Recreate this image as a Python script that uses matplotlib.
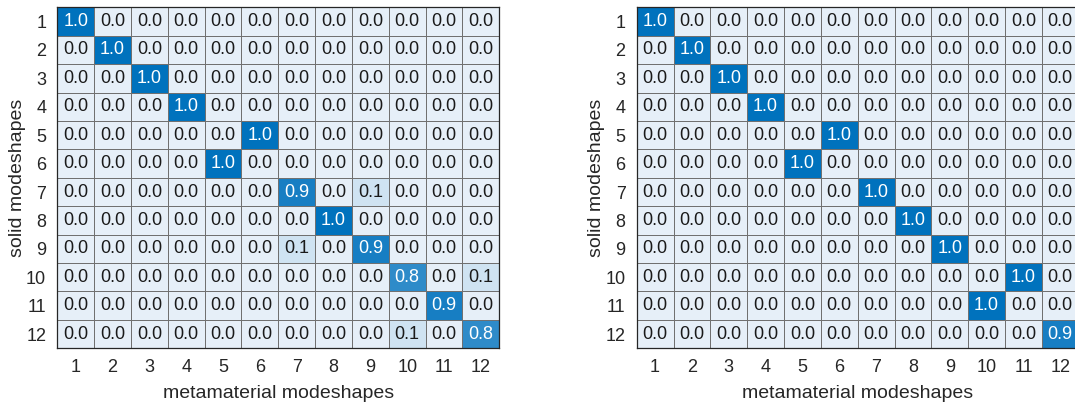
import numpy as np
import matplotlib
matplotlib.use('Agg')
import matplotlib.pyplot as plt
from matplotlib.colors import LinearSegmentedColormap

plt.rcParams['font.family'] = ['Liberation Sans', 'DejaVu Sans']

modes = [str(i) for i in range(1, 13)]

# MAC values, rows = solid modes, cols = metamaterial modes
mac_left = np.array([
    [1.0, 0, 0, 0, 0, 0, 0, 0, 0, 0, 0, 0],
    [0, 1.0, 0, 0, 0, 0, 0, 0, 0, 0, 0, 0],
    [0, 0, 1.0, 0, 0, 0, 0, 0, 0, 0, 0, 0],
    [0, 0, 0, 1.0, 0, 0, 0, 0, 0, 0, 0, 0],
    [0, 0, 0, 0, 0, 1.0, 0, 0, 0, 0, 0, 0],
    [0, 0, 0, 0, 1.0, 0, 0, 0, 0, 0, 0, 0],
    [0, 0, 0, 0, 0, 0, 0.9, 0, 0.1, 0, 0, 0],
    [0, 0, 0, 0, 0, 0, 0, 1.0, 0, 0, 0, 0],
    [0, 0, 0, 0, 0, 0, 0.1, 0, 0.9, 0, 0, 0],
    [0, 0, 0, 0, 0, 0, 0, 0, 0, 0.8, 0, 0.1],
    [0, 0, 0, 0, 0, 0, 0, 0, 0, 0, 0.9, 0],
    [0, 0, 0, 0, 0, 0, 0, 0, 0, 0.1, 0, 0.8],
])

mac_right = np.array([
    [1.0, 0, 0, 0, 0, 0, 0, 0, 0, 0, 0, 0],
    [0, 1.0, 0, 0, 0, 0, 0, 0, 0, 0, 0, 0],
    [0, 0, 1.0, 0, 0, 0, 0, 0, 0, 0, 0, 0],
    [0, 0, 0, 1.0, 0, 0, 0, 0, 0, 0, 0, 0],
    [0, 0, 0, 0, 0, 1.0, 0, 0, 0, 0, 0, 0],
    [0, 0, 0, 0, 1.0, 0, 0, 0, 0, 0, 0, 0],
    [0, 0, 0, 0, 0, 0, 1.0, 0, 0, 0, 0, 0],
    [0, 0, 0, 0, 0, 0, 0, 1.0, 0, 0, 0, 0],
    [0, 0, 0, 0, 0, 0, 0, 0, 1.0, 0, 0, 0],
    [0, 0, 0, 0, 0, 0, 0, 0, 0, 0, 1.0, 0],
    [0, 0, 0, 0, 0, 0, 0, 0, 0, 1.0, 0, 0],
    [0, 0, 0, 0, 0, 0, 0, 0, 0, 0, 0, 0.9],
])

cmap = LinearSegmentedColormap.from_list('sky', ['#e6eff8', '#0072bd'])

fig = plt.figure(figsize=(10.75, 4.05), dpi=100)


def draw(ax, mac):
    n = mac.shape[0]
    ax.pcolormesh(mac, cmap=cmap, vmin=0, vmax=1, edgecolor='#707070', linewidth=0.6)
    for i in range(n):
        for j in range(n):
            v = mac[i, j]
            ax.text(j + 0.5, i + 0.5, f'{v:.1f}', ha='center', va='center',
                    fontsize=13, color='white' if v > 0.5 else '#1a1a1a')
    ax.set_xlim(0, n)
    ax.set_ylim(n, 0)
    ax.set_xticks(np.arange(n) + 0.5)
    ax.set_xticklabels(modes)
    ax.set_yticks(np.arange(n) + 0.5)
    ax.set_yticklabels(modes)
    ax.tick_params(length=0, labelsize=13, colors='#262626', pad=8)
    for s in ax.spines.values():
        s.set_color('#262626')
        s.set_linewidth(0.9)
    ax.set_xlabel('metamaterial modeshapes', fontsize=14, color='#262626', labelpad=6)
    ax.set_ylabel('solid modeshapes', fontsize=14, color='#262626', labelpad=0)


ax1 = fig.add_axes([57.3 / 1075, 1 - 348.3 / 405, 442 / 1075, 341 / 405])
ax2 = fig.add_axes([636.7 / 1075, 1 - 348.3 / 405, 442 / 1075, 341 / 405])
draw(ax1, mac_left)
draw(ax2, mac_right)

fig.savefig('out.png', dpi=100)
